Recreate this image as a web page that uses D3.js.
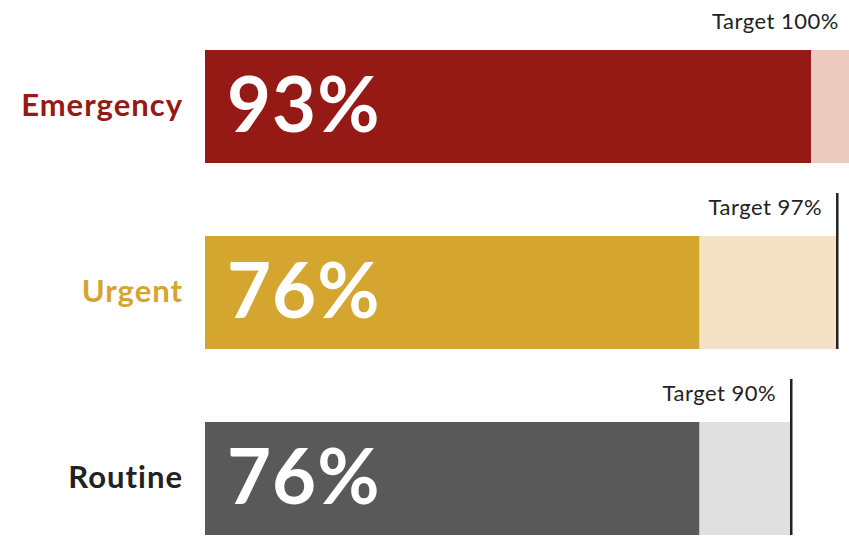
<!DOCTYPE html>
<html>
<head>
<meta charset="utf-8">
<script src="https://cdn.jsdelivr.net/npm/d3@7"></script>
<style>
  body { margin: 0; background: #fff; }
  svg { display: block; font-family: Lato, "Open Sans", sans-serif; }
</style>
</head>
<body>
<svg id="chart"></svg>
<script>
const width = 849, height = 536;

const categories = ["Emergency", "Urgent", "Routine"];
const actual = [93, 76, 76];
const targets = [100, 97, 90];
const darkColors = ["#951915", "#d4a52f", "#595959"];
const lightColors = ["#eccabf", "#f3e2c5", "#e0e0e0"];
const labelColors = ["#951915", "#d4a52f", "#222222"];

const svg = d3.select("#chart")
  .attr("width", width)
  .attr("height", height);

const barLeft = 205;

// x scale
const x = d3.scaleLinear()
  .domain([0, 100])
  .range([199.6, 857]);

// rows
const y = d3.scaleBand()
  .domain(categories)
  .range([50, 535])
  .paddingInner(0.3925)
  .paddingOuter(0);

const bh = y.bandwidth();

const rows = svg.selectAll(".row")
  .data(categories)
  .enter().append("g")
  .attr("class", "row")
  .attr("transform", d => `translate(0,${y(d)})`);

// target (light) bar
rows.append("rect")
  .attr("x", barLeft)
  .attr("y", 0)
  .attr("width", (d, i) => x(targets[i]) - barLeft)
  .attr("height", bh)
  .attr("fill", (d, i) => lightColors[i]);

// actual bar
rows.append("rect")
  .attr("x", barLeft)
  .attr("y", 0)
  .attr("width", (d, i) => x(actual[i]) - barLeft)
  .attr("height", bh)
  .attr("fill", (d, i) => darkColors[i]);

// target line
rows.append("line")
  .attr("x1", (d, i) => x(targets[i]))
  .attr("x2", (d, i) => x(targets[i]))
  .attr("y1", -43)
  .attr("y2", bh)
  .attr("stroke", "#222")
  .attr("stroke-width", 2.5);

// target label
rows.append("text")
  .attr("x", (d, i) => Math.min(x(targets[i]) - 15, width - 10))
  .attr("y", -21)
  .attr("text-anchor", "end")
  .attr("fill", "#222")
  .style("font-size", "22px")
  .style("letter-spacing", "0.5px")
  .text((d, i) => `Target ${targets[i]}%`);

// big percentage
rows.append("text")
  .attr("x", barLeft + 22)
  .attr("y", bh / 2 + 26)
  .attr("fill", "#fff")
  .style("font-size", "76px")
  .style("font-weight", 700)
  .style("letter-spacing", "1px")
  .text((d, i) => `${actual[i]}%`);

// category label
rows.append("text")
  .attr("x", 183)
  .attr("y", bh / 2 + 10)
  .attr("text-anchor", "end")
  .attr("fill", (d, i) => labelColors[i])
  .style("font-size", "31px")
  .style("font-weight", 700)
  .style("letter-spacing", "1px")
  .text(d => d);
</script>
</body>
</html>
